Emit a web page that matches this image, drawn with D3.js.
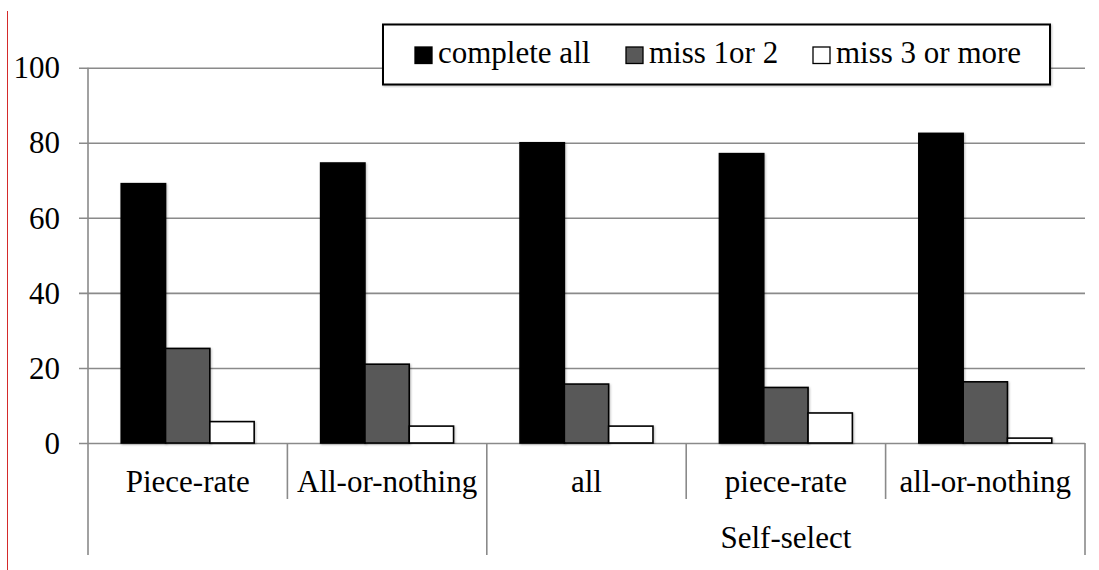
<!DOCTYPE html>
<html>
<head>
<meta charset="utf-8">
<script src="https://cdn.jsdelivr.net/npm/d3@7"></script>
<style>
  html, body { margin: 0; padding: 0; background: #fff; }
  svg { display: block; }
  svg text { font-family: 'Liberation Serif', 'Times New Roman', Tinos, serif !important; }
</style>
</head>
<body>
<svg id="chart" width="1099" height="570" font-family="Liberation Serif"></svg>
<script>
// Completion outcomes (%) by payment scheme
const categories = ["Piece-rate", "All-or-nothing", "all", "piece-rate", "all-or-nothing"];
const seriesNames = ["complete all", "miss 1or 2", "miss 3 or more"];
const completeAll = [69.1, 74.6, 80.0, 77.1, 82.5];
const miss1or2    = [25.2, 21.0, 15.7, 14.8, 16.3];
const miss3orMore = [5.7, 4.5, 4.5, 8.0, 1.3];
const yTicks = [0, 20, 40, 60, 80, 100];
const groupLabel = "Self-select";
const groupMembers = ["all", "piece-rate", "all-or-nothing"];

const seriesValues = [completeAll, miss1or2, miss3orMore];
const fills = ["#000000", "#595959", "#ffffff"];

const labelFont = "Liberation Serif";
const labelSize = 31;

const svg = d3.select("#chart");
const plotLeft = 88, plotRight = 1085, plotTop = 67.7, plotBottom = 443;
const gridColor = "#8a8a8a";

// applies the serif face used by every label
function serifText(sel) {
  return sel.attr("font-family", labelFont)
    .attr("font-size", labelSize)
    .attr("fill", "#000");
}

// thin marker line at the left margin
svg.append("line")
  .attr("x1", 7.5).attr("x2", 7.5).attr("y1", 11).attr("y2", 570)
  .attr("stroke", "#d42a2a").attr("stroke-width", 1);

const y = d3.scaleLinear().domain([0, 100]).range([plotBottom, plotTop]);
const x0 = d3.scaleBand().domain(categories).range([plotLeft, plotRight]).padding(0);
const x1 = d3.scaleBand().domain(seriesNames).range([0, x0.bandwidth()])
  .paddingInner(0).paddingOuter(0.75);

// y axis with gridlines
const yAxis = svg.append("g")
  .attr("transform", `translate(${plotLeft},0)`)
  .call(d3.axisLeft(y).tickValues(yTicks).tickSize(-(plotRight - plotLeft)).tickPadding(28));
yAxis.attr("font-family", labelFont).attr("font-size", labelSize);
yAxis.select(".domain").remove();
yAxis.selectAll(".tick line")
  .attr("x1", -9)
  .attr("stroke", gridColor).attr("stroke-width", 1.6);
yAxis.selectAll(".tick text")
  .attr("dy", "0.33em")
  .call(serifText);

// vertical axis line
svg.append("line")
  .attr("x1", plotLeft).attr("x2", plotLeft).attr("y1", plotTop).attr("y2", plotBottom)
  .attr("stroke", gridColor).attr("stroke-width", 1.6);

// soft shadow for the bars and legend frame
const defs = svg.append("defs");
const sh = defs.append("filter").attr("id", "shadow")
  .attr("x", "-20%").attr("y", "-5%").attr("width", "140%").attr("height", "110%");
sh.append("feDropShadow").attr("dx", 1).attr("dy", 1).attr("stdDeviation", 1.2)
  .attr("flood-color", "#000").attr("flood-opacity", 0.25);

// bars
const rows = categories.map((c, i) => seriesNames.map((s, j) => ({ cat: c, series: s, value: seriesValues[j][i], j })));
svg.append("g").selectAll("g")
  .data(rows).join("g")
  .attr("transform", d => `translate(${x0(d[0].cat)},0)`)
  .selectAll("rect")
  .data(d => d).join("rect")
  .attr("x", d => x1(d.series))
  .attr("y", d => y(d.value))
  .attr("width", x1.bandwidth())
  .attr("height", d => y(0) - y(d.value))
  .attr("fill", d => fills[d.j])
  .attr("stroke", "#000").attr("stroke-width", 1.6)
  .attr("filter", "url(#shadow)");

// category separators: short ones between first-level labels, long ones around groups
const sepX = categories.map(c => x0(c)).concat([plotRight]);
const outerX = [plotLeft, x0(groupMembers[0]), plotRight];
svg.append("g").selectAll("line")
  .data(sepX).join("line")
  .attr("x1", d => d).attr("x2", d => d)
  .attr("y1", plotBottom).attr("y2", d => outerX.some(o => Math.abs(o - d) < 0.5) ? 555 : 499)
  .attr("stroke", gridColor).attr("stroke-width", 1.6);

// category labels
svg.append("g").selectAll("text")
  .data(categories).join("text")
  .attr("x", d => x0(d) + x0.bandwidth() / 2)
  .attr("y", 492)
  .attr("text-anchor", "middle")
  .call(serifText)
  .text(d => d);

// second-level group label
svg.append("text")
  .attr("x", (x0(groupMembers[0]) + plotRight) / 2)
  .attr("y", 548)
  .attr("text-anchor", "middle")
  .call(serifText)
  .text(groupLabel);

// legend
const legend = svg.append("g");
legend.append("rect")
  .attr("x", 383).attr("y", 24.5).attr("width", 667).attr("height", 60)
  .attr("fill", "#fff").attr("stroke", "#000").attr("stroke-width", 2)
  .attr("filter", "url(#shadow)");
const legendX = [415, 626, 813];
seriesNames.forEach((s, j) => {
  legend.append("rect")
    .attr("x", legendX[j]).attr("y", 47).attr("width", 17).attr("height", 16.5)
    .attr("fill", fills[j]).attr("stroke", "#000").attr("stroke-width", 1.3);
  legend.append("text")
    .attr("x", legendX[j] + 23).attr("y", 63)
    .call(serifText)
    .text(s);
});
</script>
</body>
</html>
